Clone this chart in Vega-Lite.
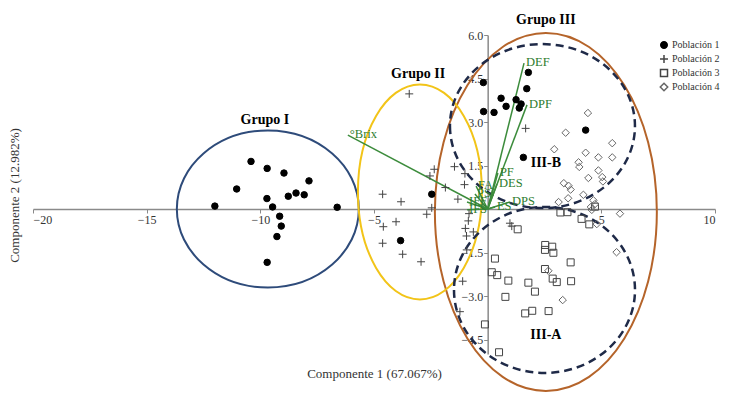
{
  "$schema": "https://vega.github.io/schema/vega-lite/v6.json",
  "width": 682,
  "height": 319,
  "autosize": {"type": "none"},
  "padding": {"left": 33, "top": 35, "right": 34, "bottom": 50},
  "background": "white",
  "config": {
    "view": {"stroke": null},
    "font": "Liberation Serif",
    "axis": {"labelFont": "Liberation Serif", "titleFont": "Liberation Serif"},
    "legend": {"labelFont": "Liberation Serif", "titleFont": "Liberation Serif"},
    "text": {"font": "Liberation Serif"}
  },
  "datasets": {
    "puntos": [
      {"pob": "Población 1", "x": -12.00, "y": 0.10},
      {"pob": "Población 1", "x": -11.04, "y": 0.69},
      {"pob": "Población 1", "x": -10.41, "y": 1.64},
      {"pob": "Población 1", "x": -9.70, "y": 1.40},
      {"pob": "Población 1", "x": -8.96, "y": 1.24},
      {"pob": "Población 1", "x": -7.86, "y": 0.97},
      {"pob": "Población 1", "x": -8.43, "y": 0.55},
      {"pob": "Población 1", "x": -8.07, "y": 0.49},
      {"pob": "Población 1", "x": -8.77, "y": 0.44},
      {"pob": "Población 1", "x": -9.71, "y": 0.36},
      {"pob": "Población 1", "x": -9.46, "y": 0.07},
      {"pob": "Población 1", "x": -6.62, "y": 0.06},
      {"pob": "Población 1", "x": -9.15, "y": -0.25},
      {"pob": "Población 1", "x": -9.08, "y": -0.59},
      {"pob": "Población 1", "x": -9.27, "y": -0.95},
      {"pob": "Población 1", "x": -9.70, "y": -1.84},
      {"pob": "Población 1", "x": -2.46, "y": 0.51},
      {"pob": "Población 1", "x": -3.83, "y": -1.09},
      {"pob": "Población 1", "x": -0.19, "y": 4.36},
      {"pob": "Población 1", "x": 1.79, "y": 4.71},
      {"pob": "Población 1", "x": 1.72, "y": 4.15},
      {"pob": "Población 1", "x": 0.59, "y": 3.82},
      {"pob": "Población 1", "x": 0.81, "y": 3.54},
      {"pob": "Población 1", "x": 1.25, "y": 3.77},
      {"pob": "Población 1", "x": 1.47, "y": 3.62},
      {"pob": "Población 1", "x": 1.39, "y": 3.48},
      {"pob": "Población 1", "x": -0.18, "y": 3.36},
      {"pob": "Población 1", "x": 0.28, "y": 3.33},
      {"pob": "Población 1", "x": 4.31, "y": 2.72},
      {"pob": "Población 1", "x": 1.57, "y": 1.78},
      {"pob": "Población 2", "x": -3.45, "y": 3.97},
      {"pob": "Población 2", "x": -2.35, "y": 1.37},
      {"pob": "Población 2", "x": -2.54, "y": 1.14},
      {"pob": "Población 2", "x": -1.46, "y": 1.46},
      {"pob": "Población 2", "x": -1.00, "y": 1.22},
      {"pob": "Población 2", "x": -1.02, "y": 0.84},
      {"pob": "Población 2", "x": -1.86, "y": 0.74},
      {"pob": "Población 2", "x": -1.31, "y": 0.34},
      {"pob": "Población 2", "x": -4.62, "y": 0.51},
      {"pob": "Población 2", "x": -3.81, "y": 0.25},
      {"pob": "Población 2", "x": -2.46, "y": 0.04},
      {"pob": "Población 2", "x": -2.68, "y": -0.18},
      {"pob": "Población 2", "x": -4.03, "y": -0.44},
      {"pob": "Población 2", "x": -4.59, "y": -0.61},
      {"pob": "Población 2", "x": -4.62, "y": -1.18},
      {"pob": "Población 2", "x": -3.74, "y": -1.56},
      {"pob": "Población 2", "x": -2.93, "y": -1.82},
      {"pob": "Población 2", "x": -0.82, "y": -0.16},
      {"pob": "Población 2", "x": -0.85, "y": -0.41},
      {"pob": "Población 2", "x": -0.98, "y": -0.67},
      {"pob": "Población 2", "x": -0.63, "y": -0.79},
      {"pob": "Población 2", "x": -0.93, "y": -0.93},
      {"pob": "Población 2", "x": -0.92, "y": -1.41},
      {"pob": "Población 2", "x": -1.10, "y": -2.49},
      {"pob": "Población 2", "x": -1.22, "y": -3.54},
      {"pob": "Población 2", "x": 0.98, "y": -0.49},
      {"pob": "Población 2", "x": 1.06, "y": -0.59},
      {"pob": "Población 2", "x": 1.67, "y": 2.78},
      {"pob": "Población 3", "x": 3.20, "y": -0.12},
      {"pob": "Población 3", "x": 3.51, "y": -0.11},
      {"pob": "Población 3", "x": 4.13, "y": -0.34},
      {"pob": "Población 3", "x": 4.47, "y": -0.53},
      {"pob": "Población 3", "x": 1.32, "y": -0.70},
      {"pob": "Población 3", "x": 2.53, "y": -1.24},
      {"pob": "Población 3", "x": 2.84, "y": -1.30},
      {"pob": "Población 3", "x": 2.52, "y": -1.41},
      {"pob": "Población 3", "x": 2.89, "y": -1.51},
      {"pob": "Población 3", "x": 0.32, "y": -1.71},
      {"pob": "Población 3", "x": 3.65, "y": -1.84},
      {"pob": "Población 3", "x": 0.18, "y": -2.18},
      {"pob": "Población 3", "x": 0.42, "y": -2.28},
      {"pob": "Población 3", "x": 2.52, "y": -2.07},
      {"pob": "Población 3", "x": 0.91, "y": -2.47},
      {"pob": "Población 3", "x": 2.86, "y": -2.40},
      {"pob": "Población 3", "x": 3.04, "y": -2.52},
      {"pob": "Población 3", "x": 3.67, "y": -2.49},
      {"pob": "Población 3", "x": 1.79, "y": -2.54},
      {"pob": "Población 3", "x": 2.08, "y": -2.85},
      {"pob": "Población 3", "x": 0.78, "y": -3.03},
      {"pob": "Población 3", "x": 1.96, "y": -3.51},
      {"pob": "Población 3", "x": 1.65, "y": -3.60},
      {"pob": "Población 3", "x": 2.68, "y": -3.52},
      {"pob": "Población 3", "x": -0.12, "y": -3.98},
      {"pob": "Población 3", "x": 0.50, "y": -4.94},
      {"pob": "Población 3", "x": 4.72, "y": 0.08},
      {"pob": "Población 4", "x": 4.41, "y": 3.31},
      {"pob": "Población 4", "x": 3.43, "y": 2.63},
      {"pob": "Población 4", "x": 2.93, "y": 2.06},
      {"pob": "Población 4", "x": 5.48, "y": 2.27},
      {"pob": "Población 4", "x": 4.31, "y": 1.94},
      {"pob": "Población 4", "x": 4.87, "y": 1.78},
      {"pob": "Población 4", "x": 5.48, "y": 1.78},
      {"pob": "Población 4", "x": 4.00, "y": 1.61},
      {"pob": "Población 4", "x": 4.03, "y": 1.45},
      {"pob": "Población 4", "x": 4.87, "y": 1.33},
      {"pob": "Población 4", "x": 4.43, "y": 1.07},
      {"pob": "Población 4", "x": 5.04, "y": 1.10},
      {"pob": "Población 4", "x": 5.07, "y": 0.95},
      {"pob": "Población 4", "x": 3.35, "y": 0.89},
      {"pob": "Población 4", "x": 3.56, "y": 0.80},
      {"pob": "Población 4", "x": 3.65, "y": 0.67},
      {"pob": "Población 4", "x": 4.21, "y": 0.49},
      {"pob": "Población 4", "x": 3.54, "y": 0.37},
      {"pob": "Población 4", "x": 3.12, "y": 0.24},
      {"pob": "Población 4", "x": 4.65, "y": 0.30},
      {"pob": "Población 4", "x": 4.72, "y": 0.17},
      {"pob": "Población 4", "x": 4.54, "y": 0.07},
      {"pob": "Población 4", "x": 5.82, "y": -0.16},
      {"pob": "Población 4", "x": 4.80, "y": -0.52},
      {"pob": "Población 4", "x": 5.67, "y": -1.49},
      {"pob": "Población 4", "x": 2.67, "y": -2.13},
      {"pob": "Población 4", "x": 3.30, "y": -3.14},
      {"pob": "Población 4", "x": 4.58, "y": -0.03}
    ],
    "vectores": [
      {"lab": "DEF", "x": 1.60, "y": 5.03},
      {"lab": "DPF", "x": 1.73, "y": 3.59},
      {"lab": "°Brix", "x": -6.15, "y": 2.55},
      {"lab": "PF", "x": 0.45, "y": 1.24},
      {"lab": "DES", "x": 0.41, "y": 0.86},
      {"lab": "FA", "x": -0.51, "y": 0.79},
      {"lab": "PS", "x": -0.56, "y": 0.52},
      {"lab": "IFF", "x": -0.91, "y": 0.24},
      {"lab": "IFS", "x": -0.91, "y": -0.03},
      {"lab": "ES", "x": 0.32, "y": 0.07},
      {"lab": "DPS", "x": 0.98, "y": 0.24}
    ],
    "grupos": [
      {"lab": "Grupo I", "x": -9.80, "y": 3.07},
      {"lab": "Grupo II", "x": -3.06, "y": 4.66},
      {"lab": "Grupo III", "x": 2.56, "y": 6.52},
      {"lab": "III-B", "x": 2.56, "y": 1.59},
      {"lab": "III-A", "x": 2.56, "y": -4.34}
    ]
  },
  "encoding": {
    "x": {
      "field": "x", "type": "quantitative",
      "scale": {"domain": [-20, 10], "nice": false, "zero": false},
      "axis": {
        "orient": "bottom", "offset": -145, "values": [-20, -15, -10, -5, 5, 10],
        "grid": false, "domainColor": "#8a8a8a", "domainWidth": 1.5,
        "tickColor": "#8a8a8a", "tickSize": 4, "labelFont": "Liberation Serif",
        "labelFontSize": 12, "labelColor": "#333333", "labelPadding": 1,
        "title": "Componente 1 (67.067%)", "titleFont": "Liberation Serif",
        "titleFontSize": 13, "titleFontWeight": "normal", "titleColor": "#333333",
        "titleY": 164, "titleBaseline": "middle"
      }
    },
    "y": {
      "field": "y", "type": "quantitative",
      "scale": {"domain": [-5, 6], "nice": false, "zero": false},
      "axis": {
        "orient": "left", "offset": -454.67, "values": [-4.5, -3, -1.5, 1.5, 3, 4.5, 6],
        "format": ".1f", "grid": false, "domainColor": "#8a8a8a", "domainWidth": 1.5,
        "tickColor": "#8a8a8a", "tickSize": 4, "labelFont": "Liberation Serif",
        "labelFontSize": 12, "labelColor": "#333333", "labelPadding": 1,
        "title": "Componente 2 (12.982%)", "titleFont": "Liberation Serif",
        "titleFontSize": 13, "titleFontWeight": "normal", "titleColor": "#333333",
        "titleX": -472.7, "titleY": 160, "titleBaseline": "middle", "titleAngle": 270
      }
    }
  },
  "layer": [
    {
      "data": {"values": [{"x": -9.67, "y": 0.0}]},
      "mark": {"type": "point", "shape": "M-1,0A1,0.8626,0,1,0,1,0A1,0.8626,0,1,0,-1,0Z", "size": 33124, "stroke": "#2E4B7A", "strokeWidth": 2, "filled": false, "opacity": 1}
    },
    {
      "data": {"values": [{"x": 2.56, "y": -0.10}]},
      "mark": {"type": "point", "shape": "M-0.62,0A0.62,1,0,1,0,0.62,0A0.62,1,0,1,0,-0.62,0Z", "size": 128164, "stroke": "#B5642A", "strokeWidth": 2, "filled": false, "opacity": 1}
    },
    {
      "data": {"values": [{"x": -2.98, "y": 0.59}]},
      "mark": {"type": "point", "shape": "M-0.5767,0A0.5767,1,0,1,0,0.5767,0A0.5767,1,0,1,0,-0.5767,0Z", "size": 46225, "stroke": "#F2C418", "strokeWidth": 2, "filled": false, "opacity": 1}
    },
    {
      "data": {"values": [{"x": 2.41, "y": 2.86}]},
      "mark": {"type": "point", "shape": "M-1,0A1,0.8865,0,1,0,1,0A1,0.8865,0,1,0,-1,0Z", "size": 34225, "stroke": "#1F2A48", "strokeWidth": 2.5, "strokeDash": [8, 5], "filled": false, "opacity": 1}
    },
    {
      "data": {"values": [{"x": 2.50, "y": -2.79}]},
      "mark": {"type": "point", "shape": "M-1,0A1,0.917,0,1,0,1,0A1,0.917,0,1,0,-1,0Z", "size": 32761, "stroke": "#1F2A48", "strokeWidth": 2.5, "strokeDash": [8, 5], "filled": false, "opacity": 1}
    },
    {
      "data": {"name": "vectores"},
      "mark": {"type": "rule", "color": "#3C8C3C", "strokeWidth": 1.5},
      "encoding": {"x2": {"datum": 0}, "y2": {"datum": 0}}
    },
    {
      "data": {"name": "vectores"},
      "mark": {"type": "text", "align": "left", "baseline": "middle", "dx": 2, "dy": -1, "fontSize": 12.5, "color": "#2E7D2E", "font": "Liberation Serif"},
      "encoding": {"text": {"field": "lab"}}
    },
    {
      "data": {"name": "puntos"},
      "mark": {"type": "point", "filled": false, "size": 42, "strokeWidth": 1, "opacity": 1},
      "encoding": {
        "shape": {
          "field": "pob", "type": "nominal",
          "scale": {"domain": ["Población 1", "Población 2", "Población 3", "Población 4"],
                    "range": ["circle", "M-1.23,0H1.23M0,-1.23V1.23", "M-1.08,-1.08H1.08V1.08H-1.08Z", "M0,-1.15L1.15,0L0,1.15L-1.15,0Z"]},
          "legend": {"title": null, "orient": "none", "legendX": 626, "legendY": 5, "labelFont": "Liberation Serif", "labelFontSize": 10, "labelColor": "#333333", "symbolSize": 42, "rowPadding": 0, "labelOffset": 3}
        },
        "fill": {
          "field": "pob", "type": "nominal",
          "scale": {"domain": ["Población 1", "Población 2", "Población 3", "Población 4"],
                    "range": ["#000000", "transparent", "transparent", "transparent"]},
          "legend": {"title": null, "orient": "none", "legendX": 626, "legendY": 5, "labelFont": "Liberation Serif", "labelFontSize": 10, "labelColor": "#333333", "symbolSize": 42, "rowPadding": 0, "labelOffset": 3}
        },
        "stroke": {
          "field": "pob", "type": "nominal",
          "scale": {"domain": ["Población 1", "Población 2", "Población 3", "Población 4"],
                    "range": ["#000000", "#444444", "#444444", "#666666"]},
          "legend": {"title": null, "orient": "none", "legendX": 626, "legendY": 5, "labelFont": "Liberation Serif", "labelFontSize": 10, "labelColor": "#333333", "symbolSize": 42, "rowPadding": 0, "labelOffset": 3}
        }
      }
    },
    {
      "data": {"name": "grupos"},
      "mark": {"type": "text", "align": "center", "baseline": "middle", "fontSize": 14, "fontWeight": "bold", "color": "#000000", "font": "Liberation Serif"},
      "encoding": {"text": {"field": "lab"}}
    }
  ]
}
